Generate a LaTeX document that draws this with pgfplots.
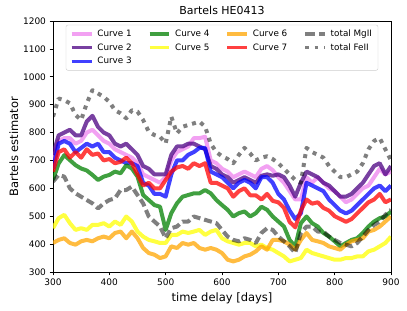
\documentclass[border=0pt]{standalone}
\usepackage{fontspec}
\setmainfont{DejaVu Sans}
\usepackage{pgfplots}
\usepackage{pgfplotstable}
\pgfplotsset{compat=1.18}
\pgfplotstableread{
x c1 c2 c3 c4 c5 c6 c7 mg fe
300 700 720 670 630 457 404 660 624 857
310 770 790 760 689 493 415 730 648 922
320 780 800 770 719 505 421 740 642 916
330 780 810 760 701 475 404 710 600 905
340 760 790 730 683 451 398 730 582 863
350 770 790 745 671 457 410 710 570 845
360 800 840 760 664 451 415 740 558 905
370 810 860 750 648 469 410 720 546 952
380 790 820 760 630 469 421 725 528 940
390 770 800 730 642 475 427 700 546 928
400 760 790 730 648 463 421 705 558 910
410 740 760 710 660 481 440 690 564 880
420 730 750 700 654 469 445 695 594 869
430 720 760 690 683 499 421 710 594 851
440 710 740 690 671 481 445 690 606 880
450 690 720 680 642 445 421 650 576 875
460 650 680 620 576 427 386 610 546 845
470 640 670 610 558 415 368 620 499 803
480 630 650 580 540 410 362 600 481 791
490 620 650 580 534 404 350 600 463 785
500 640 650 570 451 404 356 630 421 761
510 700 720 650 511 433 392 660 457 857
520 730 750 700 546 433 386 675 463 797
530 740 750 700 570 445 404 680 481 821
540 750 760 720 576 440 398 670 481 827
550 780 760 730 582 445 404 690 499 833
560 780 750 745 582 451 386 680 493 839
570 785 740 745 594 433 380 690 487 821
580 700 680 660 582 445 386 620 481 760
590 690 670 650 558 451 380 620 475 730
600 670 650 640 540 421 368 610 451 715
610 660 640 620 523 410 344 600 427 705
620 640 620 600 499 404 338 570 415 690
630 650 630 620 511 398 344 590 410 720
640 660 640 630 517 404 356 600 421 745
650 650 630 620 499 404 362 575 415 725
660 640 620 600 511 392 374 575 404 700
670 670 645 640 534 398 392 560 440 710
680 680 650 640 523 386 380 580 457 715
690 665 645 620 499 380 415 555 451 705
700 640 650 580 481 368 415 550 427 690
710 620 640 560 463 356 410 530 410 670
720 590 610 520 415 338 398 480 392 650
730 560 570 490 392 344 380 460 368 630
740 560 620 510 475 350 415 520 440 620
750 640 660 620 499 380 440 560 463 745
760 620 650 610 475 368 415 545 463 730
770 640 640 600 463 362 410 550 445 720
780 620 620 590 440 356 404 530 445 710
790 600 610 560 427 350 392 520 427 680
800 590 590 540 410 344 386 500 415 660
810 570 570 520 392 344 380 490 404 640
820 550 570 510 404 350 398 480 398 640
830 560 580 520 415 350 410 490 392 650
840 580 600 540 421 356 415 510 404 660
850 600 620 560 440 356 421 530 427 690
860 610 650 580 463 374 445 550 451 740
870 640 680 600 481 380 451 560 469 770
880 670 690 610 493 392 463 580 481 780
890 650 650 590 499 404 481 550 505 740
900 660 680 610 517 427 499 560 523 700
}\data
\definecolor{cviolet}{HTML}{EE82EE}
\definecolor{cindigo}{HTML}{4B0082}
\definecolor{cblue}{HTML}{0000FF}
\definecolor{cgreen}{HTML}{008000}
\definecolor{cyellow}{HTML}{FFFF00}
\definecolor{corange}{HTML}{FFA500}
\definecolor{cred}{HTML}{FF0000}
\begin{document}
\begin{tikzpicture}
\begin{axis}[
  scale only axis, width=338pt, height=251pt,
  xmin=300, xmax=900, ymin=300, ymax=1200,
  xtick distance=100, ytick distance=100,
  tick pos=left, tick align=outside,
  major tick length=3.5pt,
  every tick/.style={black, line width=0.6pt},
  axis line style={line width=0.6pt},
  tick label style={font=\fontsize{9}{10}\selectfont},
  /pgf/number format/assume math mode=true,
  /pgf/number format/1000 sep={},
  xlabel={time delay [days]}, ylabel={Bartels estimator},
  label style={font=\fontsize{11.5}{13}\selectfont},
  ylabel style={yshift=-2pt},
  title={Bartels HE0413},
  title style={font=\fontsize{11}{13}\selectfont, yshift=-3pt},
  legend columns=4,
  legend style={at={(0.5,0.985)}, anchor=north, font=\fontsize{8.8}{11}\selectfont,
    draw=black!20, rounded corners=2pt, inner xsep=4pt, inner ysep=3pt,
    row sep=1.5pt,
    /tikz/every even column/.append style={column sep=14pt},
    /tikz/every odd column/.append style={column sep=2pt}},
  legend cell align=left,
  legend image code/.code={\draw[#1] (0cm,0cm) -- (0.7cm,0cm);},
  every axis plot/.append style={line width=4pt, line join=round},
]
\addplot[cviolet, opacity=0.75, forget plot] table[x=x,y=c1]{\data};
\addplot[cindigo, opacity=0.75, forget plot] table[x=x,y=c2]{\data};
\addplot[cblue, opacity=0.75, forget plot] table[x=x,y=c3]{\data};
\addplot[cgreen, opacity=0.75, forget plot] table[x=x,y=c4]{\data};
\addplot[cyellow, opacity=0.75, forget plot] table[x=x,y=c5]{\data};
\addplot[corange, opacity=0.75, forget plot] table[x=x,y=c6]{\data};
\addplot[cred, opacity=0.75, forget plot] table[x=x,y=c7]{\data};
\addplot[black, opacity=0.5, dash pattern=on 8pt off 4pt, forget plot] table[x=x,y=mg]{\data};
\addplot[black, opacity=0.5, dash pattern=on 4pt off 5pt, forget plot] table[x=x,y=fe]{\data};
\addlegendimage{line width=3.5pt, cviolet, opacity=0.75}\addlegendentry{Curve 1}
\addlegendimage{line width=3.5pt, cgreen, opacity=0.75}\addlegendentry{Curve 4}
\addlegendimage{line width=3.5pt, corange, opacity=0.75}\addlegendentry{Curve 6}
\addlegendimage{line width=3.5pt, black, opacity=0.5, dash pattern=on 10pt off 4pt}\addlegendentry{total MgII}
\addlegendimage{line width=3.5pt, cindigo, opacity=0.75}\addlegendentry{Curve 2}
\addlegendimage{line width=3.5pt, cyellow, opacity=0.75}\addlegendentry{Curve 5}
\addlegendimage{line width=3.5pt, cred, opacity=0.75}\addlegendentry{Curve 7}
\addlegendimage{line width=3.5pt, black, opacity=0.5, dash pattern=on 3.5pt off 6pt}\addlegendentry{total FeII}
\addlegendimage{line width=3.5pt, cblue, opacity=0.75}\addlegendentry{Curve 3}
\end{axis}
\pgfresetboundingbox
\path ([shift={(-53pt,-39pt)}]current axis.south west) rectangle ([shift={(16pt,21pt)}]current axis.north east);
\end{tikzpicture}
\end{document}
